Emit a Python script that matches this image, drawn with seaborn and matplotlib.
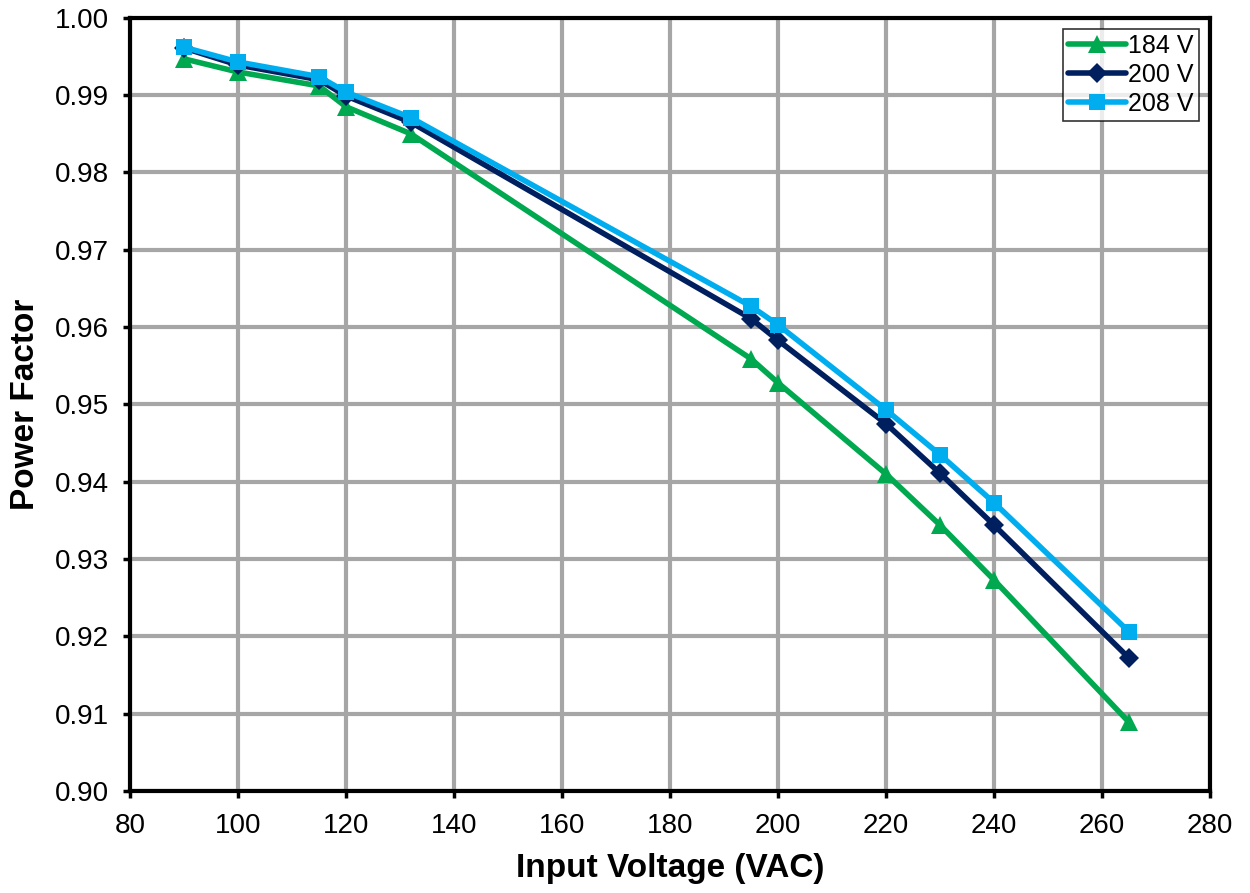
import matplotlib
matplotlib.use("Agg")
import matplotlib.pyplot as plt
import seaborn as sns
import pandas as pd

voltage = [90, 100, 115, 120, 132, 195, 200, 220, 230, 240, 265]
pf_184 = [0.9947, 0.9930, 0.9912, 0.9885, 0.9850, 0.9559, 0.9528, 0.9410, 0.9344, 0.9273, 0.9089]
pf_200 = [0.9961, 0.9939, 0.9920, 0.9899, 0.9865, 0.9611, 0.9583, 0.9475, 0.9411, 0.9344, 0.9172]
pf_208 = [0.9962, 0.9943, 0.9924, 0.9904, 0.9871, 0.9627, 0.9603, 0.9493, 0.9435, 0.9373, 0.9206]
series_names = ["184 V", "200 V", "208 V"]

rows = []
for name, vals in zip(series_names, [pf_184, pf_200, pf_208]):
    for v, p in zip(voltage, vals):
        rows.append({"Voltage": v, "PF": p, "Series": name})
df = pd.DataFrame(rows)

sns.set_theme(style="white")
plt.rcParams['font.family'] = ['Liberation Sans', 'DejaVu Sans']
plt.rcParams['text.color'] = 'black'
plt.rcParams['axes.labelcolor'] = 'black'

fig = plt.figure(figsize=(12.5, 8.93), dpi=100)
ax = fig.add_axes([0.104, 0.1142, 0.864, 0.8658])

palette = {"184 V": "#00A84F", "200 V": "#001F5F", "208 V": "#00AEEF"}
markers = {"184 V": "^", "200 V": "D", "208 V": "s"}
sizes = {"184 V": 13, "200 V": 10, "208 V": 12}

for name in series_names:
    sub = df[df["Series"] == name]
    sns.lineplot(data=sub, x="Voltage", y="PF", ax=ax, color=palette[name],
                 marker=markers[name], markersize=sizes[name], markeredgewidth=0,
                 linewidth=4, label=name, zorder=3)

ax.set_xlim(80, 280)
ax.set_ylim(0.90, 1.00)
ax.set_xticks(range(80, 281, 20))
ax.set_yticks([0.90 + 0.01 * i for i in range(11)])
ax.set_yticklabels([f"{0.90 + 0.01 * i:.2f}" for i in range(11)])
ax.grid(True, color="#A6A6A6", linewidth=3)
ax.set_axisbelow(True)
for s in ax.spines.values():
    s.set_color("black")
    s.set_linewidth(3)
ax.tick_params(axis="both", labelsize=20, colors="black", direction="out",
               length=5, width=2.5, bottom=True, left=True)
ax.tick_params(axis="y", pad=10)
ax.tick_params(axis="x", pad=11)
ax.set_xlabel("Input Voltage (VAC)", fontsize=24, fontweight="bold", labelpad=10)
ax.set_ylabel("Power Factor", fontsize=24, fontweight="bold", labelpad=10)

leg = ax.legend(loc="upper right", fontsize=18, frameon=True, fancybox=False,
                borderpad=0.2, handlelength=2.3, handletextpad=0.1, labelspacing=0.2,
                borderaxespad=0.45)
leg.get_frame().set_edgecolor("black")
leg.get_frame().set_linewidth(1.2)

fig.savefig("out.png", dpi=100)
